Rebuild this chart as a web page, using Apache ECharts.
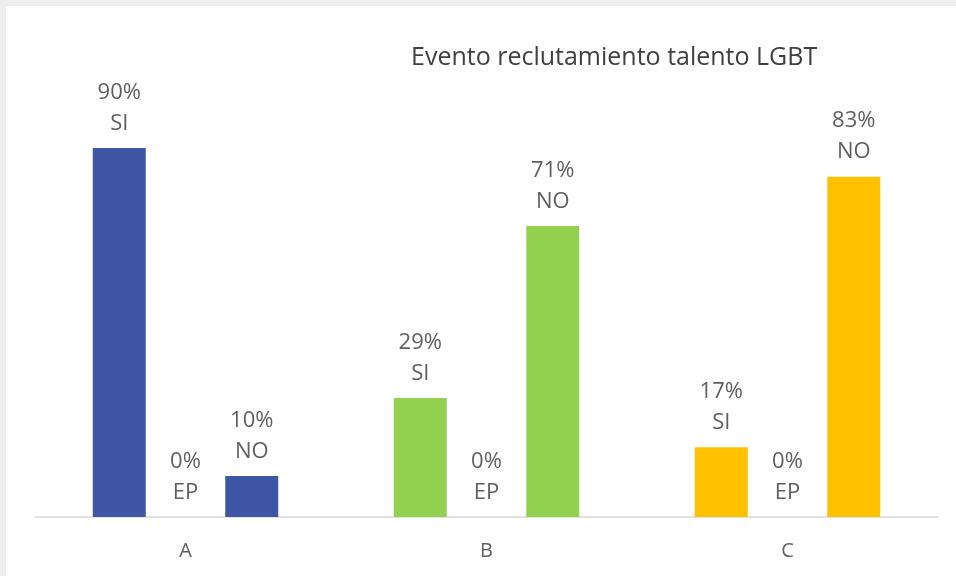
<!DOCTYPE html>
<html>
<head>
<meta charset="utf-8">
<script src="https://cdn.jsdelivr.net/npm/echarts@6/dist/echarts.min.js"></script>
<style>
  html, body { margin: 0; padding: 0; background: #eeeeee; }
  #chart { width: 956px; height: 576px; }
</style>
</head>
<body>
<div id="chart"></div>
<script>
// datos del grafico
var categories = ['A', 'B', 'C'];
var seriesNames = ['SI', 'EP', 'NO'];
var valuesSI = [90, 29, 17];
var valuesEP = [0, 0, 0];
var valuesNO = [10, 71, 83];
var groupColors = ['#3f56a5', '#92d050', '#ffc000'];

var myChart = echarts.init(document.getElementById('chart'));

var makeSeries = function(name, values){
	return {
		name: name,
		type: 'bar',
		barWidth: 53,
		barGap: '25%',
		data: values.map(function(v, i){
			return { value: v, itemStyle: { color: groupColors[i] } };
		}),
		label: {
			show: true,
			position: 'top',
			distance: 9,
			formatter: '{c}%\n{a}',
			color: '#5f5f5f',
			fontSize: 22,
			lineHeight: 31,
			fontFamily: 'Open Sans'
		}
	};
};

var option = {
	backgroundColor: '#eeeeee',
	animation: false,
	graphic: [{
		type: 'rect',
		left: 6,
		top: 6,
		shape: { width: 950, height: 570 },
		style: { fill: '#ffffff' },
		z: -10
	}],
	title: {
		text: 'Evento reclutamiento talento LGBT',
		left: 406,
		top: 40,
		textStyle: {
			color: '#404040',
			fontSize: 25,
			fontWeight: 'normal',
			fontFamily: 'Open Sans'
		}
	},
	grid: {
		left: 35,
		right: 18,
		top: 107,
		bottom: 59
	},
	xAxis: {
		type: 'category',
		data: categories,
		axisLine: { lineStyle: { color: '#d9d9d9', width: 1.5 } },
		axisTick: { show: false },
		axisLabel: {
			color: '#5f5f5f',
			fontSize: 20,
			margin: 24,
			fontFamily: 'Open Sans'
		}
	},
	yAxis: {
		type: 'value',
		min: 0,
		max: 100,
		show: false,
		splitLine: { show: false }
	},
	series: [
		makeSeries(seriesNames[0], valuesSI),
		makeSeries(seriesNames[1], valuesEP),
		makeSeries(seriesNames[2], valuesNO)
	]
};

myChart.setOption(option);
</script>
</body>
</html>
